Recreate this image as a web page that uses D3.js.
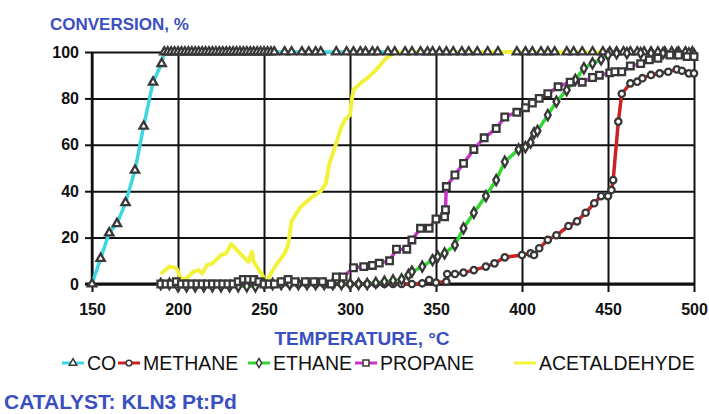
<!DOCTYPE html>
<html>
<head>
<meta charset="utf-8">
<script src="https://cdn.jsdelivr.net/npm/d3@7"></script>
<style>
  html, body { margin: 0; padding: 0; background: #fff; }
  svg { display: block; font-family: "Liberation Sans", Arial, sans-serif; }
  .tick text { font-weight: bold; font-size: 16px; fill: #111; }
  .grid line { stroke: #111; stroke-width: 2; }
  .grid path { display: none; }
  .title { font-weight: bold; fill: #3a4fc0; }
  .legend text { font-size: 19.5px; fill: #111; }
</style>
</head>
<body>
<div id="chart"></div>
<script>
/* conversion vs temperature, KLN3 Pt:Pd */

const coTemp = [150, 155, 160, 164.5, 169.5, 175, 180, 185.5, 190.5, 192, 194, 196, 198, 200, 202, 204, 206, 208, 210,
  212, 214, 216, 218, 220, 222, 224, 226, 228, 230, 232, 234, 236, 238, 240, 242, 244, 246, 248, 250, 252, 254, 256,
  262, 266, 272, 276, 280, 283, 292, 298, 302, 306, 309, 313, 316, 322, 326, 332, 336, 341, 345, 348, 352, 356, 360,
  365, 369, 374, 380, 386, 397, 402, 406, 411, 415, 419, 426, 430, 435, 441, 447, 451, 455, 459, 463, 467, 471, 475,
  479, 483, 487, 491, 495, 499];
const coConv = [0, 11, 22, 26, 35, 49, 68, 87, 95, 100, 100, 100, 100, 100, 100, 100, 100, 100, 100,
  100, 100, 100, 100, 100, 100, 100, 100, 100, 100, 100, 100, 100, 100, 100, 100, 100, 100, 100, 100, 100, 100, 100,
  100, 100, 100, 100, 100, 100, 100, 100, 100, 100, 100, 100, 100, 100, 100, 100, 100, 100, 100, 100, 100, 100, 100,
  100, 100, 100, 100, 100, 100, 100, 100, 100, 100, 100, 100, 100, 100, 100, 100, 100, 100, 100, 100, 100, 100, 100,
  100, 100, 100, 100, 100, 100];

const methaneTemp = [190, 195, 200, 205, 210, 215, 220, 225, 230, 235, 240, 245, 250, 255, 260, 265, 270, 275, 280,
  285, 290, 295, 300, 305, 310, 315, 320, 325, 330, 336, 342, 346, 350, 356, 356.5, 361, 366, 372, 379, 384, 390, 400,
  405, 407, 410, 415, 420, 427, 432, 437, 442, 446, 450, 452, 453, 456, 458, 463, 467, 470, 475, 480, 485, 490, 493,
  497, 500];
const methaneConv = [0, 0, 0, 0, 0, 0, 0, 0, 0, 0, 0, 0, 0, 0, 0, 0, 0, 0, 0,
  0, 0, 0, 0, 0, 0, 0, 0, 0, 0, 0, 0.3, 1.7, 0.6, 1, 4.3, 4.3, 4.9, 6, 7.5, 8.9, 11.5, 12.5,
  13.2, 12.5, 15.4, 19, 21, 25, 27, 30.7, 34.8, 37.9, 37.9, 40.5, 44.8, 70, 82, 86.5, 87.2, 88.7, 90.1, 90.8, 91.5, 92.5, 91.9,
  90.8, 90.8];

const ethaneTemp = [190, 195, 200, 205, 210, 215, 220, 225, 230, 235, 240, 245, 250, 255, 260, 265, 270, 275, 280,
  285, 290, 295, 300, 305, 310, 315, 320, 325, 330, 334, 336, 342, 348, 351, 355, 361, 366, 372, 379, 385, 390, 398,
  402, 405, 407, 409, 415, 420, 426, 431, 436, 441, 446, 450, 455, 461, 469, 475, 482, 490, 497, 500];
const ethaneConv = [0, 0, -1, -1, -1, -1, -1, -1, -1, -1, -1, -1, 0, 0, 0, 0, 0, 0, 0,
  0, 0, 0, 0, 0, 0, 0.5, 1, 1.5, 2, 3.9, 5.3, 7.5, 10.3, 11.8, 13.2, 16.8, 24, 30.7, 37.9, 44.8, 52.7, 58,
  59, 61, 65, 66, 72.8, 78.6, 83.6, 88, 93, 95.1, 96.8, 98.7, 99.4, 99.5, 99.5, 99.5, 99.5, 99.5, 99.4, 99];

const propaneTemp = [190, 193, 196, 199, 202, 205, 208, 211, 214, 217, 220, 223, 226, 229, 232, 235, 238, 241, 244,
  247, 250, 253, 256, 260, 264, 268, 274, 279, 284, 289, 292, 296, 302, 308, 313, 317, 323, 327, 333, 336, 341, 346,
  350, 355, 355.5, 356, 361, 366, 372, 378, 385, 390, 397, 402, 406, 410, 415, 421, 428, 435, 441, 445, 451, 454, 458,
  463, 469, 474, 479, 486, 491, 496, 500];
const propaneConv = [0, 0, 0, 1, 0, 0, 0, 0, 0, 0, 0, 0, 0, 0, 0, 1, 2, 2, 2,
  1, 0, 0, 0, 1, 2, 1, 1, 1, 1, 0, 3, 3, 7, 7.5, 8, 9, 10, 15, 15, 19, 24, 24,
  28, 29, 32, 42, 47, 52, 58, 63, 67, 72, 74, 76, 78, 80, 82, 85, 87, 87, 89, 90, 91, 91.5, 91.5,
  94, 95, 96.6, 97.3, 98.7, 98.7, 98, 98];

const acetTemp = [190, 195, 199, 202, 205, 209, 212, 214, 217, 220, 225, 228, 231, 237, 241, 243, 244, 249, 251, 253,
  257, 262, 264, 266, 271, 277, 283, 286, 288, 292, 295, 297, 300, 301, 302, 306, 310, 315, 321, 324, 327, 500];
const acetConv = [4.3, 7.5, 6.9, 1.7, 2.5, 5.3, 6, 4.6, 8.2, 8.9, 12.5, 13.2, 17.2, 12.5, 9.6, 13.9, 9.6, 3.9, 1, 3.1,
  8.2, 13.2, 16.8, 27, 33, 37, 40, 43.4, 52, 60.6, 67.8, 70.7, 72.8, 79.3, 83.6, 86.5, 88.7, 92.2, 97.3, 98.7, 100, 100];

const xTicks = [150, 200, 250, 300, 350, 400, 450, 500];
const yTicks = [0, 20, 40, 60, 80, 100];

const zip = (ts, vs) => ts.map((t, i) => ({ t: t, v: vs[i] }));

const series = [
  { name: "CO", color: "#3cd6e0", marker: d3.symbolTriangle, msize: 30, data: zip(coTemp, coConv) },
  { name: "METHANE", color: "#cc2222", marker: d3.symbolCircle, msize: 32, data: zip(methaneTemp, methaneConv) },
  { name: "ETHANE", color: "#33d633", marker: d3.symbolDiamond, msize: 30, data: zip(ethaneTemp, ethaneConv) },
  { name: "PROPANE", color: "#cc33cc", marker: d3.symbolSquare, msize: 44, data: zip(propaneTemp, propaneConv) },
  { name: "ACETALDEHYDE", color: "#f2f23c", marker: null, data: zip(acetTemp, acetConv) }
];

const W = 709, H = 414;
const plot = { left: 92, right: 694, top: 52, bottom: 284 };

const x = d3.scaleLinear().domain([150, 500]).range([plot.left, plot.right]);
const y = d3.scaleLinear().domain([0, 100]).range([plot.bottom, plot.top]);

const svg = d3.select("#chart").append("svg")
  .attr("width", W)
  .attr("height", H);

// grid lines come from axes with long ticks
svg.append("g")
  .attr("class", "grid")
  .attr("transform", "translate(" + plot.left + ",0)")
  .call(d3.axisLeft(y).tickValues(yTicks).tickSize(-(plot.right - plot.left)).tickFormat(""));

svg.append("g")
  .attr("class", "grid")
  .attr("transform", "translate(0," + plot.bottom + ")")
  .call(d3.axisBottom(x).tickValues(xTicks).tickSize(-(plot.bottom - plot.top)).tickFormat(""));

svg.append("g")
  .attr("class", "grid")
  .attr("transform", "translate(" + plot.left + ",0)")
  .call(d3.axisLeft(y).tickValues(yTicks).tickSize(7).tickPadding(6));

svg.append("g")
  .attr("class", "grid")
  .attr("transform", "translate(0," + plot.bottom + ")")
  .call(d3.axisBottom(x).tickValues(xTicks).tickSize(8).tickPadding(12));

// axis lines themselves
svg.append("line")
  .attr("x1", plot.left).attr("x2", plot.left)
  .attr("y1", plot.top).attr("y2", plot.bottom)
  .attr("stroke", "#111").attr("stroke-width", 2.5);
svg.append("line")
  .attr("x1", plot.left - 7).attr("x2", plot.right)
  .attr("y1", y(0)).attr("y2", y(0))
  .attr("stroke", "#111").attr("stroke-width", 3);

const line = d3.line()
  .x(d => x(d.t))
  .y(d => y(d.v));

const lines = svg.append("g");
series.forEach(s => {
  lines.append("path")
    .datum(s.data)
    .attr("fill", "none")
    .attr("stroke", s.color)
    .attr("stroke-width", s.marker ? 3.5 : 4)
    .attr("stroke-linejoin", "round")
    .attr("d", line);
});

const markerStyle = sel => sel
  .attr("fill", "#fff")
  .attr("stroke", "#383838")
  .attr("stroke-width", 2.3);

series.filter(s => s.marker).forEach(s => {
  const sym = d3.symbol().type(s.marker).size(s.msize);
  svg.append("g").selectAll("path")
    .data(s.data)
    .join("path")
    .attr("transform", d => "translate(" + x(d.t) + "," + y(d.v) + ")")
    .attr("d", sym)
    .call(markerStyle);
});

// titles
svg.append("text")
  .attr("class", "title")
  .attr("x", 50)
  .attr("y", 30)
  .style("font-size", "17px")
  .text("CONVERSION, %");

svg.append("text")
  .attr("class", "title")
  .attr("x", 362)
  .attr("y", 345)
  .attr("text-anchor", "middle")
  .style("font-size", "19px")
  .text("TEMPERATURE, °C");

svg.append("text")
  .attr("class", "title")
  .attr("x", 4)
  .attr("y", 409)
  .style("font-size", "21px")
  .text("CATALYST: KLN3 Pt:Pd");

// legend: short line with marker, then the name
const legendX = [62, 118, 248, 355, 514];
const legend = svg.append("g").attr("class", "legend");
series.forEach((s, i) => {
  const g = legend.append("g").attr("transform", "translate(" + legendX[i] + ",363)");
  g.append("line")
    .attr("x1", 0).attr("x2", 22)
    .attr("stroke", s.color)
    .attr("stroke-width", 3);
  if (s.marker) {
    g.append("path")
      .attr("transform", "translate(11,0)")
      .attr("d", d3.symbol().type(s.marker).size(s.msize * 0.8))
      .call(markerStyle)
      .attr("stroke-width", 1.5);
  }
  g.append("text")
    .attr("x", 25)
    .attr("y", 7)
    .text(s.name);
});
</script>
</body>
</html>
